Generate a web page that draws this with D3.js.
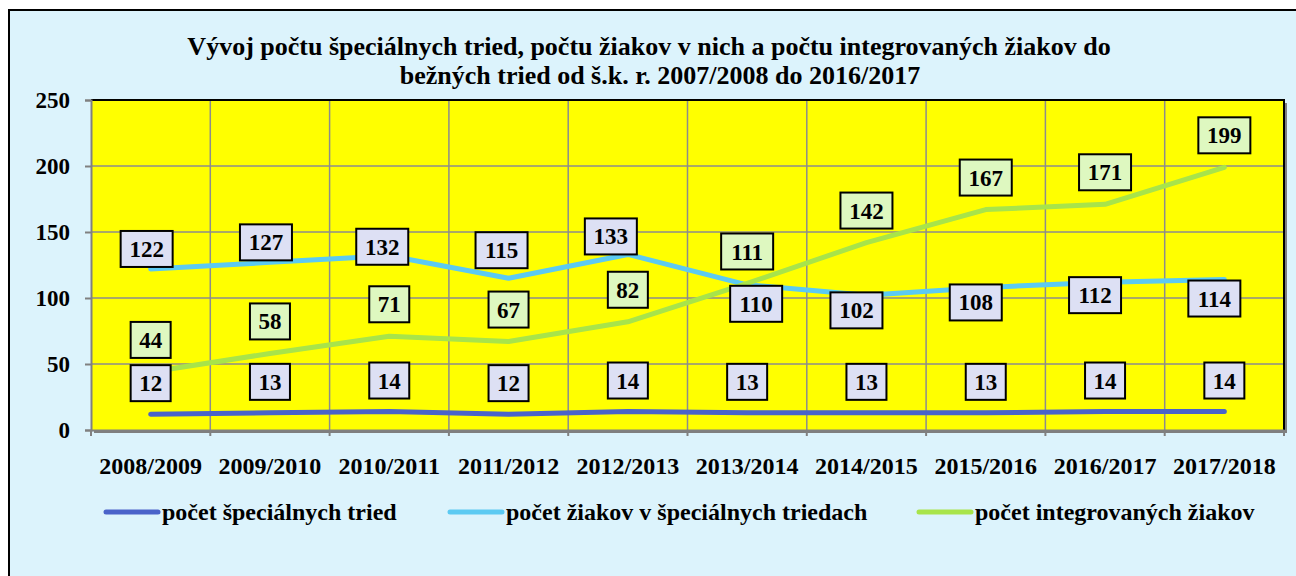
<!DOCTYPE html>
<html>
<head>
<meta charset="utf-8">
<script src="https://cdn.jsdelivr.net/npm/d3@7"></script>
<style>
  body { margin: 0; background: #fff; }
  svg text { font-family: 'Liberation Serif', 'Times New Roman', serif; font-weight: bold; fill: #000; }
</style>
</head>
<body>
<div id="chart"></div>
<script>
// School years on the x axis
const years = ['2008/2009', '2009/2010', '2010/2011', '2011/2012', '2012/2013',
               '2013/2014', '2014/2015', '2015/2016', '2016/2017', '2017/2018'];

// Series values
const classes = [12, 13, 14, 12, 14, 13, 13, 13, 14, 14];
const pupilsSpecial = [122, 127, 132, 115, 133, 110, 102, 108, 112, 114];
const pupilsIntegrated = [44, 58, 71, 67, 82, 111, 142, 167, 171, 199];

const yTicks = [0, 50, 100, 150, 200, 250];

const titleLines = [
    'Vývoj počtu špeciálnych tried, počtu žiakov v nich a počtu integrovaných žiakov do',
    'bežných tried od š.k. r. 2007/2008 do 2016/2017'
];

// Label nudges (px) as placed by hand in the original
const nudgeSpecial = [[-4, -20], [-4, -20], [-7, -9], [-7, -28], [-17, -18],
                      [9, 19], [-10, 15], [-10, 15], [-10, 13], [-10, 19]];

const series = [
    {name: 'počet špeciálnych tried', values: classes, color: '#4a63c9', box: '#dde0f4', nudge: null, dy: -31},
    {name: 'počet žiakov v špeciálnych triedach', values: pupilsSpecial, color: '#5ccaf2', box: '#dde0f4', nudge: nudgeSpecial, dy: 0},
    {name: 'počet integrovaných žiakov', values: pupilsIntegrated, color: '#a8e44a', box: '#def8c0', nudge: null, dy: -32}
];

const FONT = "'Liberation Serif', 'Times New Roman', serif";
const W = 1296, H = 576;
const plot = {left: 91, top: 100, right: 1284, bottom: 430};

const svg = d3.select('#chart').append('svg')
    .attr('width', W)
    .attr('height', H)
    .attr('font-family', FONT);

// Outer frame
svg.append('rect')
    .attr('x', 9).attr('y', 10)
    .attr('width', W + 10).attr('height', H + 10)
    .attr('fill', '#dcf3fc')
    .attr('stroke', '#000')
    .attr('stroke-width', 2);

// Title
svg.append('text')
    .attr('text-anchor', 'middle')
    .style('font-size', '26px')
    .selectAll('tspan')
    .data(titleLines)
    .enter().append('tspan')
    .attr('x', (d, i) => i === 0 ? 649 : 660)
    .attr('y', (d, i) => 55 + i * 29)
    .text(d => d);

const x = d3.scaleBand()
    .domain(years)
    .range([plot.left, plot.right]);

const y = d3.scaleLinear()
    .domain([0, 250])
    .range([plot.bottom, plot.top]);

// Plot area with shadow
svg.append('rect')
    .attr('x', plot.left + 3).attr('y', plot.top + 3)
    .attr('width', plot.right - plot.left).attr('height', plot.bottom - plot.top)
    .attr('fill', '#7f7f7f');

svg.append('rect')
    .attr('x', plot.left).attr('y', plot.top)
    .attr('width', plot.right - plot.left).attr('height', plot.bottom - plot.top)
    .attr('fill', '#ffff00');

// Grid lines
const grid = svg.append('g').attr('stroke', '#8c8c8c').attr('stroke-width', 1.5);
grid.selectAll('.hg')
    .data(yTicks.slice(1))
    .enter().append('line')
    .attr('x1', plot.left).attr('x2', plot.right)
    .attr('y1', d => y(d)).attr('y2', d => y(d));

const bandEdges = years.map(d => x(d)).slice(1);
grid.selectAll('.vg')
    .data(bandEdges)
    .enter().append('line')
    .attr('x1', d => d).attr('x2', d => d)
    .attr('y1', plot.top).attr('y2', plot.bottom);

// Black top and right border of the plot
svg.append('path')
    .attr('d', `M${plot.left},${plot.top}H${plot.right}V${plot.bottom}`)
    .attr('fill', 'none')
    .attr('stroke', '#000')
    .attr('stroke-width', 2);

// Y axis
const yAxis = svg.append('g')
    .attr('transform', `translate(${plot.left},0)`)
    .call(d3.axisLeft(y).tickValues(yTicks).tickSize(6).tickPadding(15))
    .attr('font-family', FONT);
yAxis.select('.domain').attr('stroke', '#808080').attr('stroke-width', 2);
yAxis.selectAll('.tick line').attr('stroke', '#808080').attr('stroke-width', 2);
yAxis.selectAll('.tick text')
    .attr('fill', '#000')
    .style('font-size', '23px');

// X axis
const xEdges = [plot.left, ...years.map(d => x(d) + x.bandwidth())];
const xAxis = svg.append('g')
    .attr('transform', `translate(0,${plot.bottom})`)
    .call(d3.axisBottom(x).tickSize(0).tickPadding(27))
    .attr('font-family', FONT);
xAxis.select('.domain').attr('stroke', '#808080').attr('stroke-width', 2);
xAxis.selectAll('.tick text')
    .attr('fill', '#000')
    .style('font-size', '24px');
xAxis.selectAll('.edge')
    .data(xEdges)
    .enter().append('line')
    .attr('x1', d => d).attr('x2', d => d)
    .attr('y1', 0).attr('y2', 6)
    .attr('stroke', '#808080')
    .attr('stroke-width', 2);

// Lines
const line = d3.line()
    .x((d, i) => x(years[i]) + x.bandwidth() / 2)
    .y(d => y(d));

series.forEach(s => {
    svg.append('path')
        .datum(s.values)
        .attr('d', line)
        .attr('fill', 'none')
        .attr('stroke', s.color)
        .attr('stroke-width', 5)
        .attr('stroke-linecap', 'round')
        .attr('stroke-linejoin', 'round');
});

// Data labels
series.forEach(s => {
    const labels = svg.append('g');
    s.values.forEach((v, i) => {
        const off = s.nudge ? s.nudge[i] : [0, s.dy];
        const cx = x(years[i]) + x.bandwidth() / 2 + off[0];
        const cy = y(v) + off[1];
        const w = String(v).length > 2 ? 52 : 40;
        labels.append('rect')
            .attr('x', cx - w / 2).attr('y', cy - 18)
            .attr('width', w).attr('height', 36)
            .attr('fill', s.box)
            .attr('stroke', '#000')
            .attr('stroke-width', 2);
        labels.append('text')
            .attr('x', cx).attr('y', cy)
            .attr('dy', '0.35em')
            .attr('text-anchor', 'middle')
            .style('font-size', '23px')
            .text(v);
    });
});

// Legend
const legendPos = [104, 448, 917];
const legend = svg.append('g').attr('transform', 'translate(0,512)');
series.forEach((s, i) => {
    legend.append('line')
        .attr('x1', legendPos[i] + 2).attr('x2', legendPos[i] + 54)
        .attr('y1', 0).attr('y2', 0)
        .attr('stroke', s.color)
        .attr('stroke-width', 5)
        .attr('stroke-linecap', 'round');
    legend.append('text')
        .attr('x', legendPos[i] + 58)
        .attr('y', 0)
        .attr('dy', '0.33em')
        .style('font-size', '24px')
        .text(s.name);
});
</script>
</body>
</html>
